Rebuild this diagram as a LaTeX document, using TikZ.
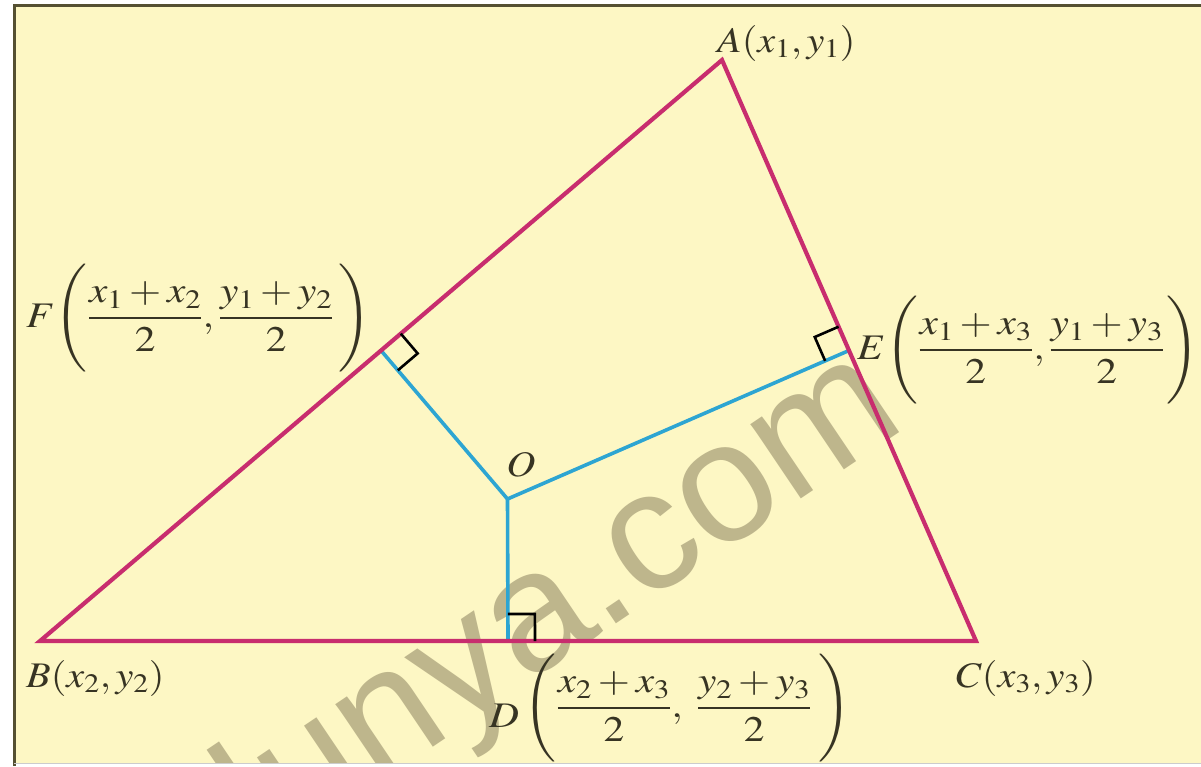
\documentclass[tikz,border=0pt]{standalone}
\usepackage{mathptmx}
\usepackage{graphicx}
\usepackage[no-math]{fontspec}
\newfontfamily\wmfont{Liberation Sans}
\usetikzlibrary{calc}
\definecolor{bgyellow}{RGB}{253,247,196}
\definecolor{framecol}{RGB}{85,80,50}
\definecolor{tri}{RGB}{200,45,110}
\definecolor{perp}{RGB}{45,165,210}
\definecolor{txt}{RGB}{55,52,35}
\definecolor{wm}{RGB}{190,182,140}
\newcommand{\wlab}[1]{\scalebox{1.12}[1]{$#1$}}
\newcommand{\wfrac}[1]{\scalebox{1.15}[1]{$#1$}}
\tikzset{
  lbl/.style={inner sep=0pt, text=txt, font=\fontsize{36}{42}\selectfont},
  triline/.style={draw=tri, line width=4.2pt, line join=miter},
  perpline/.style={draw=perp, line width=3.6pt},
  rmark/.style={draw=black, line width=2.6pt, line join=miter},
}
\begin{document}
\begin{tikzpicture}[x=1pt,y=-1pt]
\useasboundingbox (0,0) rectangle (1201,766);
\fill[white] (0,0) rectangle (1201,766);
\fill[bgyellow] (14,5) rectangle (1201,763);
\begin{scope}
\clip (14,5) rectangle (1201,763);
\node[rotate=34, text=wm, inner sep=0pt, font=\wmfont\fontsize{170}{170}\selectfont] (wmk) at (540,622) {dunya.com};
\end{scope}
\draw[framecol, line width=3pt] (14,766) -- (14,5) -- (1201,5);
\draw[black!20, line width=1pt] (14,763.5) -- (1201,763.5);

\coordinate (A) at (722,60);
\coordinate (B) at (40,641);
\coordinate (C) at (976,641);
\coordinate (D) at ($(B)!0.5!(C)$);
\coordinate (E) at ($(A)!0.5!(C)$);
\coordinate (F) at ($(A)!0.5!(B)$);
\coordinate (O) at (507.5,499);

\draw[perpline] (F) -- (O) -- (E);
\draw[perpline] (O) -- (D);
\draw[triline] (A) -- (B) -- (C) -- cycle;

\coordinate (fa) at ($(F)!26pt!(A)$);
\coordinate (fo) at ($(F)!26pt!(O)$);
\draw[rmark] (fa) -- ($(fa)+(fo)-(F)$) -- (fo);
\coordinate (ea) at ($(E)!26pt!(A)$);
\coordinate (eo) at ($(E)!26pt!(O)$);
\draw[rmark] (ea) -- ($(ea)+(eo)-(E)$) -- (eo);
\coordinate (dc) at ($(D)!27pt!(C)$);
\coordinate (do) at ($(D)!27pt!(O)$);
\draw[rmark] (do) -- ($(dc)+(do)-(D)$) -- (dc);

\node[lbl, anchor=base west] (lA) at (717,52) {\wlab{A(x_1, y_1)}};
\node[lbl, anchor=base west] (lB) at (26,687) {\wlab{B(x_2, y_2)}};
\node[lbl, anchor=base west] (lC) at (956,687) {\wlab{C(x_3, y_3)}};
\node[lbl] (lO) at (521,465) {\wlab{O}};
\node[lbl, anchor=west] (lF) at (26,318) {\wfrac{F\Biggl(\displaystyle\frac{x_1+x_2}{2}, \frac{y_1+y_2}{2}\mkern2mu\Biggr)}};
\node[lbl, anchor=west] (lE) at (857,350) {\wfrac{E\Biggl(\displaystyle\frac{x_1+x_3}{2}, \frac{y_1+y_3}{2}\mkern1mu\Biggr)}};
\node[lbl, anchor=west] (lD) at (489,708) {\wfrac{\raisebox{-10pt}{$D$}\mkern2mu\Biggl(\displaystyle\frac{x_2+x_3}{2},\; \frac{y_2+y_3}{2}\mkern3mu\Biggr)}};
\end{tikzpicture}
\end{document}
